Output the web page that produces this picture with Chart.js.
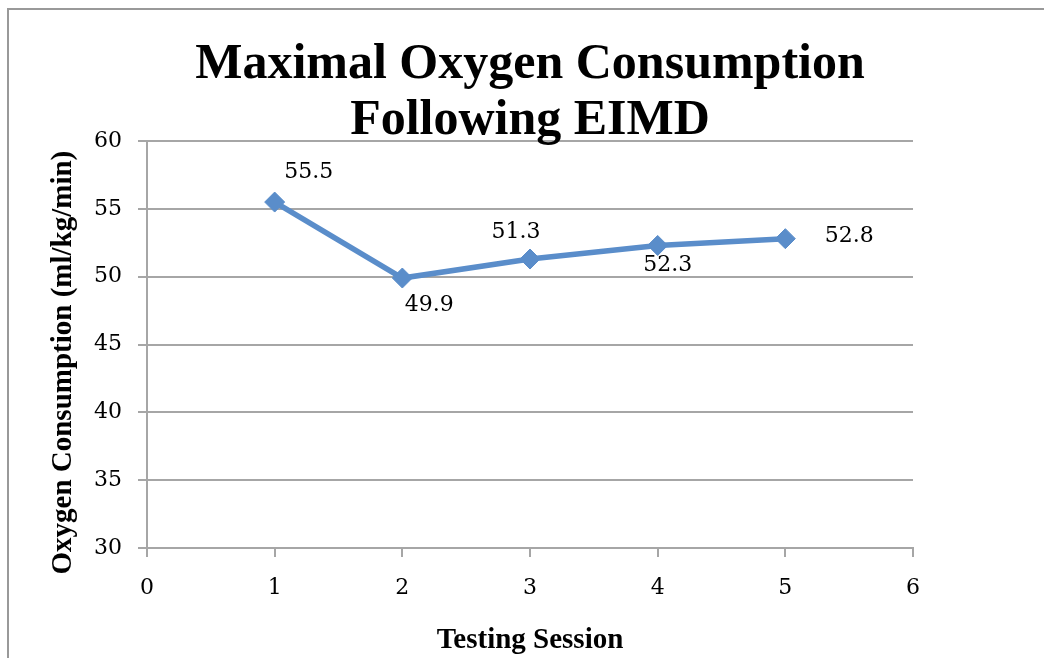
<!DOCTYPE html>
<html>
<head>
<meta charset="utf-8">
<script src="https://cdn.jsdelivr.net/npm/chart.js@4.4.0/dist/chart.umd.min.js"></script>
<style>
  html, body { margin: 0; padding: 0; background: #fff; }
  #wrap { width: 1044px; height: 658px; }
</style>
</head>
<body>
<div id="wrap"><canvas id="grafico"></canvas></div>
<script>
// Datos del gráfico
const sesiones = [1, 2, 3, 4, 5];
const consumoOxigeno = [55.5, 49.9, 51.3, 52.3, 52.8];
const ticksX = [0, 1, 2, 3, 4, 5, 6];
const ticksY = [30, 35, 40, 45, 50, 55, 60];
const tituloLineas = ['Maximal Oxygen Consumption', 'Following EIMD'];

const serifNegrita = '"Liberation Serif", "DejaVu Serif", serif';
const serifNumeros = '"DejaVu Serif", "Liberation Serif", serif';
const gris = '#a6a6a6';
const azul = '#5a8dca';

// Marco, título y etiquetas de datos dibujados a mano
const extras = {
    id: 'extras',
    beforeDraw(chart) {
        const ctx = chart.ctx;
        ctx.save();
        ctx.fillStyle = '#fff';
        ctx.fillRect(0, 0, chart.width, chart.height);
        ctx.strokeStyle = '#999';
        ctx.lineWidth = 2;
        ctx.strokeRect(8, 9, chart.width + 20, chart.height + 20);
        ctx.restore();
    },
    afterDraw(chart, args, opts) {
        const ctx = chart.ctx;
        ctx.save();
        // título
        ctx.fillStyle = '#000';
        ctx.textAlign = 'center';
        ctx.textBaseline = 'alphabetic';
        ctx.font = 'bold 50px ' + serifNegrita;
        const cx = (chart.chartArea.left + chart.chartArea.right) / 2;
        ctx.fillText(tituloLineas[0], cx, 78);
        ctx.fillText(tituloLineas[1], cx, 134);
        // etiquetas de datos
        ctx.font = '22px ' + serifNumeros;
        ctx.textBaseline = 'middle';
        const meta = chart.getDatasetMeta(0);
        meta.data.forEach(function (pt, i) {
            const off = opts.offsets[i];
            ctx.fillText(consumoOxigeno[i].toFixed(1), pt.x + off[0], pt.y + off[1]);
        });
        ctx.restore();
    }
};

const ctx = document.getElementById('grafico').getContext('2d');
const chart = new Chart(ctx, {
    type: 'line',
    data: {
        datasets: [{
            data: sesiones.map((s, i) => ({ x: s, y: consumoOxigeno[i] })),
            borderColor: azul,
            backgroundColor: azul,
            borderWidth: 5.5,
            pointStyle: 'rectRot',
            pointRadius: 10,
            pointHoverRadius: 10,
            pointBorderWidth: 1,
            pointBorderColor: azul,
            tension: 0
        }]
    },
    options: {
        responsive: true,
        maintainAspectRatio: false,
        animation: false,
        events: [],
        layout: { padding: { top: 141, right: 131, bottom: 0, left: 0 } },
        plugins: {
            legend: { display: false },
            tooltip: { enabled: false },
            extras: {
                offsets: [[34, -30], [27, 27], [-14, -27], [10, 20], [64, -2]]
            }
        },
        scales: {
            x: {
                type: 'linear',
                min: 0,
                max: 6,
                afterBuildTicks: function (axis) {
                    axis.ticks = ticksX.map(v => ({ value: v }));
                },
                afterFit: function (axis) { axis.height = 110; },
                grid: {
                    display: true,
                    drawOnChartArea: false,
                    drawTicks: true,
                    tickLength: 9,
                    color: gris,
                    lineWidth: 2
                },
                border: { display: true, color: gris, width: 2 },
                ticks: {
                    color: '#000',
                    padding: 18,
                    maxRotation: 0,
                    font: { family: serifNumeros, size: 22 }
                },
                title: {
                    display: true,
                    text: 'Testing Session',
                    color: '#000',
                    padding: { top: 0, bottom: 0 },
                    font: { family: serifNegrita, size: 29, weight: 'bold' }
                }
            },
            y: {
                min: 30,
                max: 60,
                afterBuildTicks: function (axis) {
                    axis.ticks = ticksY.map(v => ({ value: v }));
                },
                afterFit: function (axis) { axis.width = 147; },
                grid: {
                    color: gris,
                    lineWidth: 2,
                    drawTicks: true,
                    tickLength: 9
                },
                border: { display: true, color: gris, width: 2 },
                ticks: {
                    color: '#000',
                    padding: 16,
                    font: { family: serifNumeros, size: 22 }
                },
                title: {
                    display: true,
                    text: 'Oxygen Consumption (ml/kg/min)     ',
                    color: '#000',
                    padding: { top: 46, bottom: 0 },
                    font: { family: serifNegrita, size: 29, weight: 'bold' }
                }
            }
        }
    },
    plugins: [extras]
});
</script>
</body>
</html>
